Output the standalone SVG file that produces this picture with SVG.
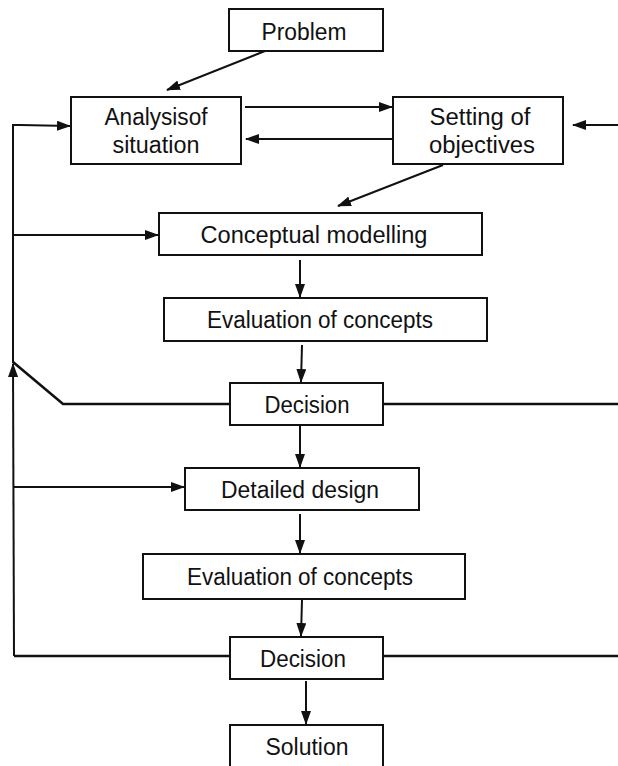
<svg xmlns="http://www.w3.org/2000/svg" width="618" height="766" viewBox="0 0 618 766">
  <style>
    .box { fill: #fff; stroke: #111; stroke-width: 2; }
    .lbl { font-family: "Liberation Sans", Arial, sans-serif; font-size: 23px; fill: #111; text-anchor: middle; }
    .ln { fill: none; stroke: #111; stroke-width: 2; }
    .arr { fill: none; stroke: #111; stroke-width: 2; marker-end: url(#head); }
    .thick { fill: none; stroke: #111; stroke-width: 2.6; }
  </style>
  <defs>
    <marker id="head" markerUnits="userSpaceOnUse" markerWidth="14" markerHeight="10" refX="13" refY="5" orient="auto">
      <path d="M0,0 L14,5 L0,10 Z" fill="#111"/>
    </marker>
  </defs>

  <!-- connectors -->
  <g id="connectors">
    <line class="arr" x1="265" y1="51" x2="167" y2="90"/>
    <line class="arr" x1="245" y1="107" x2="392" y2="107"/>
    <line class="arr" x1="393" y1="139" x2="246" y2="139"/>
    <line class="arr" x1="618" y1="125" x2="573" y2="125"/>
    <line class="arr" x1="443" y1="165" x2="338" y2="206"/>
    <line class="arr" x1="300" y1="260" x2="300" y2="297"/>
    <line class="arr" x1="302" y1="345" x2="301" y2="382"/>
    <line class="arr" x1="300" y1="426" x2="300" y2="467"/>
    <line class="arr" x1="300" y1="514" x2="300" y2="553"/>
    <line class="arr" x1="302" y1="600" x2="301" y2="636"/>
    <line class="arr" x1="306" y1="681" x2="306" y2="724"/>

    <!-- feedback loop on the left -->
    <polyline class="ln" points="13,363 13,125 20,125"/>
    <line class="arr" x1="20" y1="125" x2="70" y2="126"/>
    <line class="arr" x1="13" y1="235" x2="158" y2="235"/>
    <line class="arr" x1="13" y1="487" x2="184" y2="487"/>
    <line class="arr" x1="14" y1="656" x2="13" y2="364"/>

    <!-- decision lines -->
    <polyline class="thick" points="13,362 63,404 230,404"/>
    <line class="thick" x1="383" y1="404" x2="618" y2="404"/>
    <line class="thick" x1="14" y1="656" x2="230" y2="656"/>
    <line class="thick" x1="383" y1="656" x2="618" y2="656"/>
  </g>

  <g id="problem">
    <rect class="box" x="229" y="9" width="154" height="42"/>
    <text class="lbl" x="304" y="40" textLength="85" lengthAdjust="spacingAndGlyphs">Problem</text>
  </g>
  <g id="analysis">
    <rect class="box" x="71" y="97" width="170" height="67"/>
    <text class="lbl" x="156" y="125" textLength="103" lengthAdjust="spacingAndGlyphs">Analysisof</text>
    <text class="lbl" x="156" y="153" textLength="87" lengthAdjust="spacingAndGlyphs">situation</text>
  </g>
  <g id="objectives">
    <rect class="box" x="393" y="97" width="170" height="67"/>
    <text class="lbl" x="480" y="125" textLength="101" lengthAdjust="spacingAndGlyphs">Setting of</text>
    <text class="lbl" x="482" y="153" textLength="106" lengthAdjust="spacingAndGlyphs">objectives</text>
  </g>
  <g id="conceptual">
    <rect class="box" x="159" y="213" width="323" height="42"/>
    <text class="lbl" x="314" y="243" textLength="227" lengthAdjust="spacingAndGlyphs">Conceptual modelling</text>
  </g>
  <g id="evaluation1">
    <rect class="box" x="164" y="298" width="323" height="43"/>
    <text class="lbl" x="320" y="328" textLength="226" lengthAdjust="spacingAndGlyphs">Evaluation of concepts</text>
  </g>
  <g id="decision1">
    <rect class="box" x="230" y="383" width="153" height="42"/>
    <text class="lbl" x="307" y="413" textLength="85" lengthAdjust="spacingAndGlyphs">Decision</text>
  </g>
  <g id="detailed">
    <rect class="box" x="185" y="468" width="234" height="42"/>
    <text class="lbl" x="300" y="498" textLength="158" lengthAdjust="spacingAndGlyphs">Detailed design</text>
  </g>
  <g id="evaluation2">
    <rect class="box" x="143" y="554" width="322" height="45"/>
    <text class="lbl" x="300" y="585" textLength="226" lengthAdjust="spacingAndGlyphs">Evaluation of concepts</text>
  </g>
  <g id="decision2">
    <rect class="box" x="230" y="637" width="153" height="42"/>
    <text class="lbl" x="303" y="667" textLength="86" lengthAdjust="spacingAndGlyphs">Decision</text>
  </g>
  <g id="solution">
    <rect class="box" x="230" y="725" width="153" height="60"/>
    <text class="lbl" x="307" y="755" textLength="83" lengthAdjust="spacingAndGlyphs">Solution</text>
  </g>
</svg>
